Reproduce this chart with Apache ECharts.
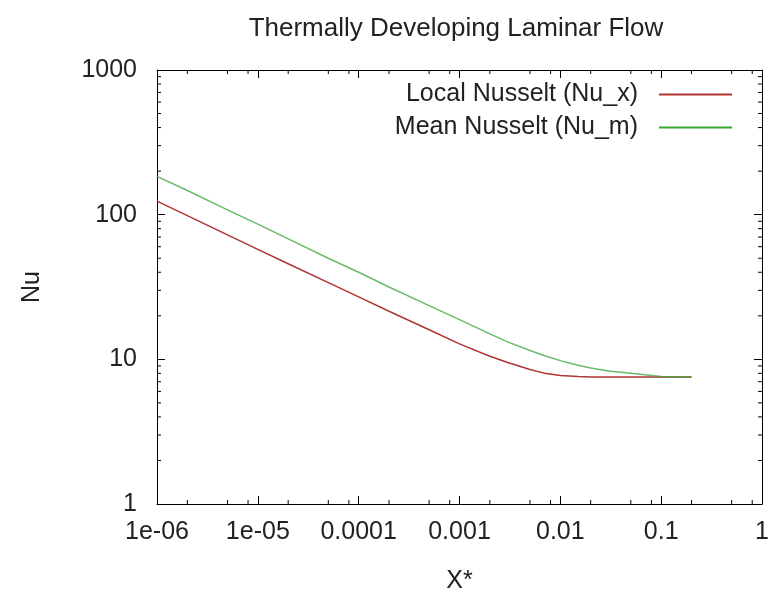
<!DOCTYPE html>
<html>
<head>
<meta charset="utf-8">
<script src="https://cdn.jsdelivr.net/npm/echarts@6/dist/echarts.min.js"></script>
<style>
  html, body { margin: 0; padding: 0; background: #fff; }
  #chart { width: 773px; height: 594px; }
</style>
</head>
<body>
<div id="chart"></div>
<script>
// Dimensionless axial distance x* and Nusselt numbers along the duct
const xStar = [1e-6, 2e-6, 5e-6, 1e-5, 2e-5, 5e-5, 1e-4, 2e-4, 5e-4, 1e-3, 2e-3, 3e-3, 5e-3, 7e-3, 1e-2, 1.5e-2, 2e-2, 3e-2, 5e-2, 0.1, 0.2];
const nuLocal = [124, 98.5, 72.5, 57.6, 45.8, 33.9, 27.0, 21.5, 16.0, 12.8, 10.5, 9.5, 8.5, 8.0, 7.73, 7.6, 7.55, 7.54, 7.54, 7.54, 7.54];
const nuMean  = [184, 147, 108, 86, 68, 50, 40, 31.6, 23.5, 18.8, 15.0, 13.2, 11.5, 10.6, 9.8, 9.1, 8.7, 8.3, 8.0, 7.62, 7.56];

// Axis tick labels (one per decade)
const xTickLabels = ['1e-06', '1e-05', '0.0001', '0.001', '0.01', '0.1', '1'];
const yTickLabels = ['1', '10', '100', '1000'];

// Minor tick positions
const xMinor = [];
for (let e = -6; e < 0; e++) [2, 5, 8].forEach(m => xMinor.push(m * Math.pow(10, e)));
const yMinor = [];
for (let e = 0; e < 3; e++) [2, 3, 4, 5, 6, 7, 8, 9].forEach(m => yMinor.push(m * Math.pow(10, e)));

const FONT = "'Liberation Sans', Arial, sans-serif";
const FS = 25;
const TXT = '#222';
const X_MIN = 1e-6, X_MAX = 1, Y_MIN = 1, Y_MAX = 1000;
const RED = '#b03434', GREEN = '#36a636';

const chart = echarts.init(document.getElementById('chart'), null, { renderer: 'canvas' });

function baseX(extra) {
  return Object.assign({
    type: 'log', logBase: 10, min: X_MIN, max: X_MAX, splitNumber: 6,
    axisLine: { show: true, lineStyle: { color: '#000', width: 1 } },
    axisTick: { show: true, inside: true, length: 8, lineStyle: { color: '#000' } },
    splitLine: { show: false },
    minorTick: { show: false }
  }, extra);
}
function baseY(extra) {
  return Object.assign({
    type: 'log', logBase: 10, min: Y_MIN, max: Y_MAX, splitNumber: 3,
    axisLine: { show: true, lineStyle: { color: '#000', width: 1 } },
    axisTick: { show: true, inside: true, length: 8, lineStyle: { color: '#000' } },
    splitLine: { show: false },
    minorTick: { show: false }
  }, extra);
}

const minorLen = 4;

chart.setOption({
  animation: false,
  backgroundColor: '#fff',
  textStyle: { fontFamily: FONT },
  title: {
    text: 'Thermally Developing Laminar Flow',
    left: 451, top: 11, textAlign: 'center',
    textStyle: { fontFamily: FONT, fontSize: 26, fontWeight: 'normal', color: TXT }
  },
  legend: {
    data: [
      { name: 'Local Nusselt (Nu_x)', icon: 'rect' },
      { name: 'Mean Nusselt (Nu_m)', icon: 'rect' }
    ],
    orient: 'vertical', align: 'right',
    right: 41, top: 82, padding: 0,
    itemWidth: 73, itemHeight: 2, itemGap: 8,
    textStyle: { fontFamily: FONT, fontSize: FS, color: TXT, padding: [0, 16, 0, 0] }
  },
  grid: { left: 157, right: 11, top: 70, bottom: 90, containLabel: false, outerBoundsMode: 'none' },
  xAxis: [
    baseX({
      position: 'bottom',
      name: 'X*', nameLocation: 'middle', nameGap: 65,
      nameTextStyle: { fontFamily: FONT, fontSize: FS, color: TXT },
      axisLabel: {
        fontFamily: FONT, fontSize: FS, color: TXT, margin: 16,
        formatter: v => xTickLabels[Math.round(Math.log10(v)) + 6]
      }
    }),
    baseX({ position: 'top', axisLabel: { show: false } })
  ],
  yAxis: [
    baseY({
      position: 'left',
      name: 'Nu', nameLocation: 'middle', nameGap: 112, nameRotate: 90,
      nameTextStyle: { fontFamily: FONT, fontSize: FS, color: TXT },
      axisLabel: {
        fontFamily: FONT, fontSize: FS, color: TXT, margin: 20,
        formatter: v => yTickLabels[Math.round(Math.log10(v))]
      }
    }),
    baseY({ position: 'right', axisLabel: { show: false } })
  ],
  series: [
    {
      name: 'Local Nusselt (Nu_x)', type: 'line', xAxisIndex: 0, yAxisIndex: 0,
      data: xStar.map((x, i) => [x, nuLocal[i]]),
      showSymbol: false, symbol: 'none',
      lineStyle: { color: RED, width: 1.5 },
      itemStyle: { color: RED }, z: 3
    },
    {
      name: 'Mean Nusselt (Nu_m)', type: 'line', xAxisIndex: 0, yAxisIndex: 0,
      data: xStar.map((x, i) => [x, nuMean[i]]),
      showSymbol: false, symbol: 'none',
      lineStyle: { color: GREEN, width: 1.5, opacity: 0.75 },
      itemStyle: { color: GREEN }, z: 4
    },
    {
      // minor ticks on bottom and top edges
      type: 'custom', silent: true, clip: false, xAxisIndex: 0, yAxisIndex: 0,
      data: xMinor.map(x => [x, Y_MIN]),
      renderItem: (params, api) => {
        const b = api.coord([api.value(0), Y_MIN]);
        const t = api.coord([api.value(0), Y_MAX]);
        const st = { stroke: '#000', lineWidth: 1 };
        return { type: 'group', children: [
          { type: 'line', shape: { x1: b[0], y1: b[1], x2: b[0], y2: b[1] - minorLen }, style: st },
          { type: 'line', shape: { x1: t[0], y1: t[1], x2: t[0], y2: t[1] + minorLen }, style: st }
        ] };
      }
    },
    {
      // minor ticks on left and right edges
      type: 'custom', silent: true, clip: false, xAxisIndex: 0, yAxisIndex: 0,
      data: yMinor.map(y => [X_MIN, y]),
      renderItem: (params, api) => {
        const l = api.coord([X_MIN, api.value(1)]);
        const r = api.coord([X_MAX, api.value(1)]);
        const st = { stroke: '#000', lineWidth: 1 };
        return { type: 'group', children: [
          { type: 'line', shape: { x1: l[0], y1: l[1], x2: l[0] + minorLen, y2: l[1] }, style: st },
          { type: 'line', shape: { x1: r[0], y1: r[1], x2: r[0] - minorLen, y2: r[1] }, style: st }
        ] };
      }
    }
  ]
});
</script>
</body>
</html>
